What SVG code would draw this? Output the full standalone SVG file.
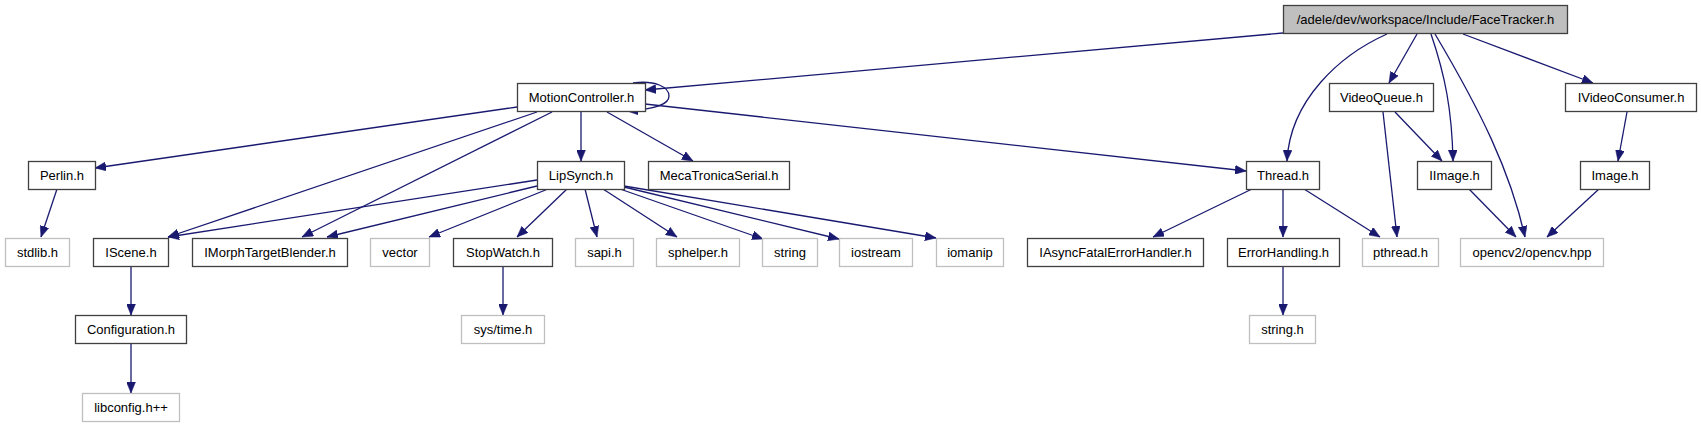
<svg xmlns="http://www.w3.org/2000/svg" width="1701" height="427" viewBox="0 0 1701 427">
<style>
.n rect{fill:#ffffff;stroke:#404040;stroke-width:1.3}
.g rect{fill:#ffffff;stroke:#bfbfbf;stroke-width:1.3}
.r rect{fill:#bfbfbf;stroke:#404040;stroke-width:1.3}
text{font-family:"Liberation Sans",Arial,Helvetica,sans-serif;font-size:13px;fill:#000000;text-anchor:middle}
#edges path{fill:none;stroke:#191970;stroke-width:1.3;marker-end:url(#ah)}
</style>
<defs>
<marker id="ah" markerUnits="userSpaceOnUse" viewBox="0 0 11 9" refX="11" refY="4.5" markerWidth="11" markerHeight="9" orient="auto">
<path d="M0,0 L11,4.5 L0,9 z" fill="#191970" stroke="#191970" stroke-width="0.5"/>
</marker>
</defs>
<rect width="1701" height="427" fill="#ffffff"/>
<g id="edges">
<path d="M1283,33 L645,90"/>
<path d="M633,83 C655,80 669,87 669,96 C669,104 658,109 627,111"/>
<path d="M517,107 L95,168"/>
<path d="M537,112 L168,237"/>
<path d="M552,112 L302,237"/>
<path d="M581,111 L581,161"/>
<path d="M607,112 L693,161"/>
<path d="M645,104 L1246,171"/>
<path d="M57,189 L41,237"/>
<path d="M537,180 L168,237"/>
<path d="M537,186 L327,237"/>
<path d="M548,189 L429,237"/>
<path d="M567,189 L517,237"/>
<path d="M585,189 L597,237"/>
<path d="M603,189 L677,237"/>
<path d="M620,189 L763,239"/>
<path d="M624,187 L839,239"/>
<path d="M624,186 L936,238"/>
<path d="M131,266 L131,315"/>
<path d="M131,343 L131,393"/>
<path d="M503,266 L503,315"/>
<path d="M1387,34 C1340,55 1290,100 1287,161"/>
<path d="M1417,34 L1389,83"/>
<path d="M1431,34 C1445,75 1452,110 1453,161"/>
<path d="M1435,34 C1480,110 1510,170 1525,237"/>
<path d="M1463,34 L1593,83"/>
<path d="M1395,112 L1442,161"/>
<path d="M1383,112 L1397,237"/>
<path d="M1627,112 L1618,161"/>
<path d="M1469,189 L1516,237"/>
<path d="M1599,189 L1547,237"/>
<path d="M1252,189 L1153,237"/>
<path d="M1283,189 L1283,237"/>
<path d="M1304,189 L1380,237"/>
<path d="M1283,266 L1283,315"/>
</g>
<g id="FaceTracker" class="r"><rect x="1283.5" y="5.5" width="284" height="28"/><text x="1425.5" y="24">/adele/dev/workspace/Include/FaceTracker.h</text></g>
<g id="MotionController" class="n"><rect x="517.5" y="83.5" width="128" height="28"/><text x="581.5" y="102">MotionController.h</text></g>
<g id="VideoQueue" class="n"><rect x="1329.5" y="83.5" width="104" height="28"/><text x="1381.5" y="102">VideoQueue.h</text></g>
<g id="IVideoConsumer" class="n"><rect x="1565.5" y="83.5" width="131" height="28"/><text x="1631" y="102">IVideoConsumer.h</text></g>
<g id="Perlin" class="n"><rect x="28.5" y="161.5" width="67" height="28"/><text x="62" y="180">Perlin.h</text></g>
<g id="LipSynch" class="n"><rect x="537.5" y="161.5" width="87" height="28"/><text x="581" y="180">LipSynch.h</text></g>
<g id="MecaTronicaSerial" class="n"><rect x="648.5" y="161.5" width="141" height="28"/><text x="719" y="180">MecaTronicaSerial.h</text></g>
<g id="Thread" class="n"><rect x="1246.5" y="161.5" width="73" height="28"/><text x="1283" y="180">Thread.h</text></g>
<g id="IImage" class="n"><rect x="1417.5" y="161.5" width="74" height="28"/><text x="1454.5" y="180">IImage.h</text></g>
<g id="Image" class="n"><rect x="1580.5" y="161.5" width="69" height="28"/><text x="1615" y="180">Image.h</text></g>
<g id="stdlib" class="g"><rect x="5.5" y="238.5" width="64" height="28"/><text x="37.5" y="257">stdlib.h</text></g>
<g id="IScene" class="n"><rect x="93.5" y="238.5" width="75" height="28"/><text x="131" y="257">IScene.h</text></g>
<g id="IMorphTargetBlender" class="n"><rect x="192.5" y="238.5" width="155" height="28"/><text x="270" y="257">IMorphTargetBlender.h</text></g>
<g id="vector" class="g"><rect x="370.5" y="238.5" width="59" height="28"/><text x="400" y="257">vector</text></g>
<g id="StopWatch" class="n"><rect x="453.5" y="238.5" width="99" height="28"/><text x="503" y="257">StopWatch.h</text></g>
<g id="sapi" class="g"><rect x="575.5" y="238.5" width="58" height="28"/><text x="604.5" y="257">sapi.h</text></g>
<g id="sphelper" class="g"><rect x="656.5" y="238.5" width="83" height="28"/><text x="698" y="257">sphelper.h</text></g>
<g id="string" class="g"><rect x="762.5" y="238.5" width="55" height="28"/><text x="790" y="257">string</text></g>
<g id="iostream" class="g"><rect x="839.5" y="238.5" width="73" height="28"/><text x="876" y="257">iostream</text></g>
<g id="iomanip" class="g"><rect x="936.5" y="238.5" width="67" height="28"/><text x="970" y="257">iomanip</text></g>
<g id="IAsyncFatalErrorHandler" class="n"><rect x="1027.5" y="238.5" width="176" height="28"/><text x="1115.5" y="257">IAsyncFatalErrorHandler.h</text></g>
<g id="ErrorHandling" class="n"><rect x="1227.5" y="238.5" width="112" height="28"/><text x="1283.5" y="257">ErrorHandling.h</text></g>
<g id="pthread" class="g"><rect x="1362.5" y="238.5" width="76" height="28"/><text x="1400.5" y="257">pthread.h</text></g>
<g id="opencv" class="g"><rect x="1460.5" y="238.5" width="143" height="28"/><text x="1532" y="257">opencv2/opencv.hpp</text></g>
<g id="Configuration" class="n"><rect x="75.5" y="315.5" width="111" height="28"/><text x="131" y="334">Configuration.h</text></g>
<g id="systime" class="g"><rect x="461.5" y="315.5" width="83" height="28"/><text x="503" y="334">sys/time.h</text></g>
<g id="stringh" class="g"><rect x="1249.5" y="315.5" width="66" height="28"/><text x="1282.5" y="334">string.h</text></g>
<g id="libconfig" class="g"><rect x="82.5" y="393.5" width="97" height="28"/><text x="131" y="412">libconfig.h++</text></g>
</svg>
